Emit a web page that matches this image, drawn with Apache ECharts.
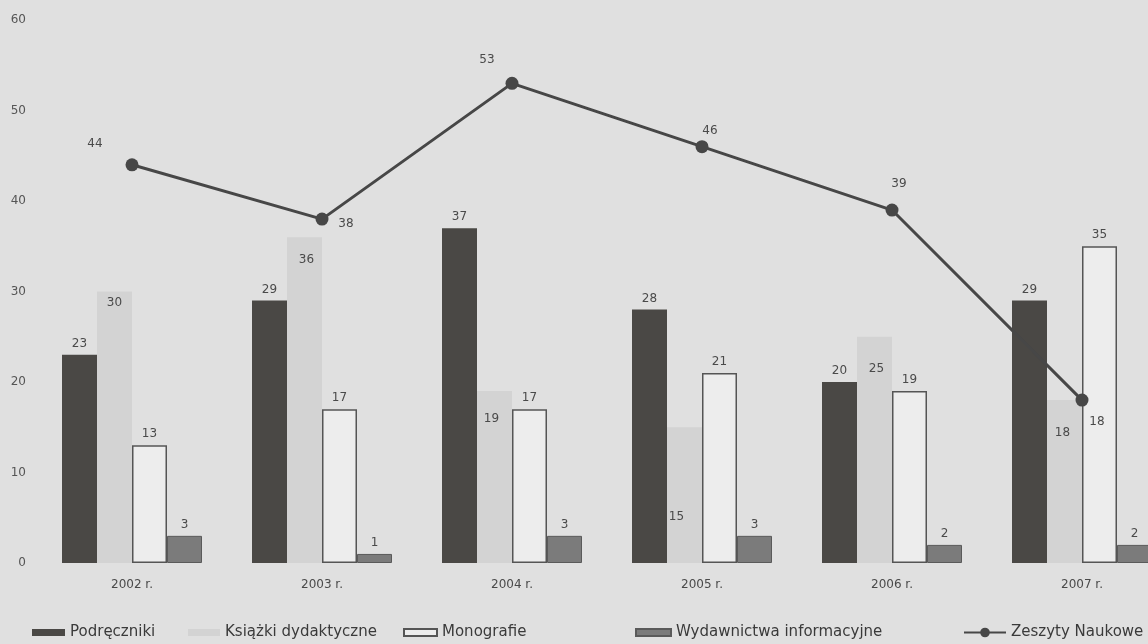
<!DOCTYPE html>
<html>
<head>
<meta charset="utf-8">
<script src="https://cdn.jsdelivr.net/npm/echarts@6.0.0/dist/echarts.min.js"></script>
<style>
  html, body { margin: 0; padding: 0; background: #e0e0e0; }
  #chart { width: 1148px; height: 644px; }
</style>
</head>
<body>
<div id="chart"></div>
<script>
// Publications per year, by type
const years = ['2002 r.', '2003 r.', '2004 r.', '2005 r.', '2006 r.', '2007 r.'];
const podreczniki = [23, 29, 37, 28, 20, 29];
const ksiazkiDydaktyczne = [30, 36, 19, 15, 25, 18];
const monografie = [13, 17, 17, 21, 19, 35];
const wydawnictwaInformacyjne = [3, 1, 3, 3, 2, 2];
const zeszytyNaukowe = [44, 38, 53, 46, 39, 18];

const seriesNames = ['Podręczniki', 'Książki dydaktyczne', 'Monografie', 'Wydawnictwa informacyjne', 'Zeszyty Naukowe'];

// label nudges (px) so value labels don't collide with neighbouring marks
const ksiazkiLabelOffsets = [[0, 0], [2, 12], [-3, 17], [-8, 79], [2, 21], [-2, 22]];
const zeszytyLabelOffsets = [[-37, -21], [24, 5], [-25, -23], [8, -16], [7, -26], [15, 22]];

const fontFamily = 'DejaVu Sans, sans-serif';
const textColor = '#4a4a4a';
const labelFont = { fontFamily: fontFamily, fontSize: 12, color: textColor };

const chart = echarts.init(document.getElementById('chart'), null, { renderer: 'canvas' });

const legendLefts = [27, 183, 398, 630, 958];
const legendWidths = [33, 32, 33, 35, 42];

const option = {
  backgroundColor: '#e0e0e0',
  animation: false,
  grid: { left: 37, top: 20, width: 1140, height: 543, outerBoundsMode: 'none' },
  legend: seriesNames.map((name, i) => ({
    data: [{ name: name, icon: i === 4 ? undefined : 'rect' }],
    left: legendLefts[i],
    top: 620,
    itemWidth: legendWidths[i],
    itemHeight: i === 4 ? 12 : 7,
    itemGap: 0,
    textStyle: { fontFamily: fontFamily, fontSize: 15, color: '#3a3a3a' }
  })),
  xAxis: {
    type: 'category',
    data: years,
    axisLine: { show: false },
    axisTick: { show: false },
    axisLabel: { fontFamily: fontFamily, fontSize: 12, color: textColor, margin: 16 }
  },
  yAxis: {
    type: 'value',
    min: 0,
    max: 60,
    interval: 10,
    splitLine: { show: false },
    axisLine: { show: false },
    axisTick: { show: false },
    axisLabel: { fontFamily: fontFamily, fontSize: 12, color: '#555', margin: 11 }
  },
  series: [
    {
      name: seriesNames[0],
      type: 'bar',
      data: podreczniki,
      barWidth: 35,
      barGap: '0%',
      itemStyle: { color: '#4a4845' },
      label: { show: true, position: 'top', ...labelFont }
    },
    {
      name: seriesNames[1],
      type: 'bar',
      z: 3,
      data: ksiazkiDydaktyczne.map((v, i) => ({
        value: v,
        label: { offset: ksiazkiLabelOffsets[i] }
      })),
      barWidth: 35,
      barGap: '0%',
      itemStyle: { color: '#d3d3d3' },
      label: { show: true, position: 'insideTop', ...labelFont }
    },
    {
      name: seriesNames[2],
      type: 'bar',
      data: monografie,
      barWidth: 35,
      barGap: '0%',
      itemStyle: { color: '#ededed', borderColor: '#555', borderWidth: 1.5 },
      label: { show: true, position: 'top', ...labelFont }
    },
    {
      name: seriesNames[3],
      type: 'bar',
      data: wydawnictwaInformacyjne,
      barWidth: 35,
      barGap: '0%',
      itemStyle: { color: '#7b7b7b', borderColor: '#5a5a5a', borderWidth: 1 },
      label: { show: true, position: 'top', ...labelFont }
    },
    {
      name: seriesNames[4],
      type: 'line',
      z: 5,
      data: zeszytyNaukowe.map((v, i) => ({
        value: v,
        label: { offset: zeszytyLabelOffsets[i] }
      })),
      symbol: 'circle',
      symbolSize: 13,
      lineStyle: { color: '#474747', width: 3 },
      itemStyle: { color: '#474747' },
      label: { show: true, position: 'inside', ...labelFont }
    }
  ]
};

chart.setOption(option);
</script>
</body>
</html>
